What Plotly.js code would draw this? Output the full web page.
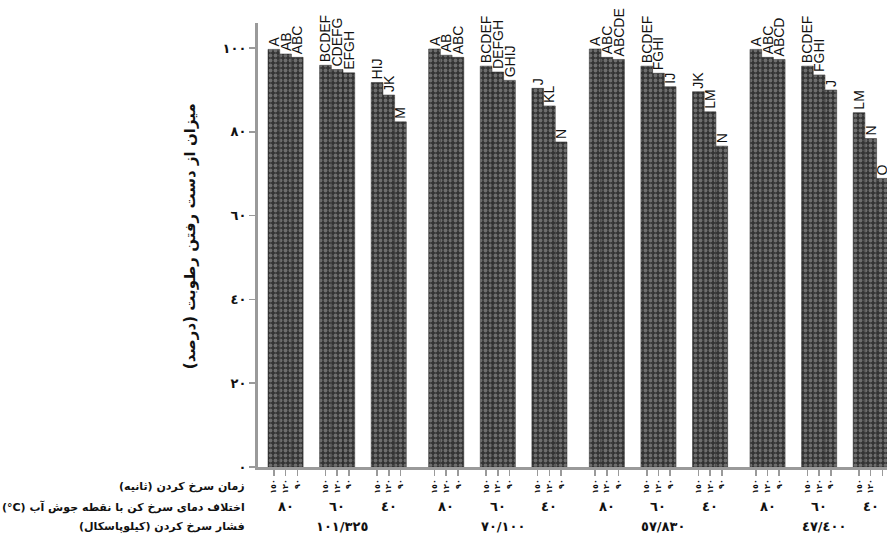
<!DOCTYPE html>
<html>
<head>
<meta charset="utf-8">
<script src="https://cdn.plot.ly/plotly-3.0.1.min.js"></script>
<style>html,body{margin:0;padding:0;background:#fff;}#chart{width:887px;height:555px;}</style>
</head>
<body>
<div id="chart"></div>
<script>
// ---- data ----
const pressureLabels = ["١٠١/٣٢٥", "٧٠/١٠٠", "٥٧/٨٣٠", "٤٧/٤٠٠"];
const tempLabels = ["٨٠", "٦٠", "٤٠"];
const timeLabels = ["١٥٠", "١٢٠", "٩٠"];
const yTickLabels = ["٠", "٢٠", "٤٠", "٦٠", "٨٠", "١٠٠"];
const yTickValues = [0, 20, 40, 60, 80, 100];

// moisture loss (%) per pressure: [temp80: t150,t120,t90, temp60: ..., temp40: ...]
const loss_101 = [99.7, 98.6, 97.8, 95.9, 94.9, 94.1, 91.8, 88.8, 82.4];
const loss_70  = [99.8, 98.3, 97.8, 95.7, 94.3, 92.3, 90.4, 86.2, 77.6];
const loss_57  = [99.8, 97.8, 97.3, 95.7, 94.0, 90.8, 89.6, 84.8, 76.6];
const loss_47  = [99.7, 97.8, 97.3, 95.7, 93.6, 90.0, 84.6, 78.4, 68.9];

const letters_101 = ["A", "AB", "ABC", "BCDEF", "CDEFG", "EFGH", "HIJ", "JK", "M"];
const letters_70  = ["A", "AB", "ABC", "BCDEF", "DEFGH", "GHIJ", "J", "KL", "N"];
const letters_57  = ["A", "ABC", "ABCDE", "BCDEF", "FGHI", "IJ", "JK", "LM", "N"];
const letters_47  = ["A", "ABC", "ABCD", "BCDEF", "FGHI", "J", "LM", "N", "O"];

const rowTitleTime = "زمان سرخ کردن (ثانیه)\u200F";
const rowTitleTemp = "(°C) اختلاف دمای سرخ کن با نقطه جوش آب";
const rowTitlePress = "فشار سرخ کردن (کیلوپاسکال)\u200F";
const yTitle = "میزان از دست رفتن رطوبت (درصد)\u200F";

// ---- build ----
const allLoss = [loss_101, loss_70, loss_57, loss_47];
const allLetters = [letters_101, letters_70, letters_57, letters_47];
const P_STEP = 13.73, T_STEP = 4.41;
const xs = [], ys = [], txt = [], tickv = [], tickt = [];
const annotations = [];
const numFont = {family: 'DejaVu Sans', size: 13, color: '#111', weight: 'bold'};
for (let p = 0; p < 4; p++) {
  for (let t = 0; t < 3; t++) {
    for (let k = 0; k < 3; k++) {
      const x = p * P_STEP + t * T_STEP + k;
      xs.push(x);
      ys.push(allLoss[p][t * 3 + k]);
      txt.push(allLetters[p][t * 3 + k]);
      tickv.push(x);
      tickt.push(timeLabels[k]);
    }
    annotations.push({
      x: p * P_STEP + t * T_STEP + 1, xref: 'x', y: -0.09, yref: 'paper',
      text: tempLabels[t], showarrow: false, xanchor: 'center', yanchor: 'middle',
      font: numFont
    });
  }
  annotations.push({
    x: p * P_STEP + T_STEP + 1.4, xref: 'x', y: -0.135, yref: 'paper',
    text: pressureLabels[p], showarrow: false, xanchor: 'center', yanchor: 'middle',
    font: numFont
  });
}
const rowFont = {family: 'DejaVu Sans', size: 11, color: '#111', weight: 'bold'};
annotations.push({x: -0.018, xref: 'paper', y: -0.045, yref: 'paper', text: rowTitleTime, showarrow: false, xanchor: 'right', yanchor: 'middle', font: rowFont});
annotations.push({x: -0.018, xref: 'paper', y: -0.09, yref: 'paper', text: rowTitleTemp, showarrow: false, xanchor: 'right', yanchor: 'middle', font: rowFont});
annotations.push({x: -0.018, xref: 'paper', y: -0.135, yref: 'paper', text: rowTitlePress, showarrow: false, xanchor: 'right', yanchor: 'middle', font: rowFont});
annotations.push({x: -0.108, xref: 'paper', y: 0.52, yref: 'paper', text: yTitle, showarrow: false, textangle: -90, xanchor: 'center', yanchor: 'middle', font: {family: 'DejaVu Sans', size: 15, color: '#111', weight: 'bold'}});

const trace = {
  type: 'bar', x: xs, y: ys, width: 1,
  text: txt, textposition: 'outside', textangle: -90, constraintext: 'none', cliponaxis: false,
  textfont: {family: 'Liberation Sans Narrow, Liberation Sans', size: 14, color: '#111'},
  marker: {
    color: '#333333',
    line: {color: '#262626', width: 0.5},
    pattern: {shape: '.', fgcolor: '#6e6e6e', bgcolor: '#333333', size: 5, solidity: 0.45}
  },
  hoverinfo: 'x+y'
};

const layout = {
  width: 887, height: 555,
  margin: {l: 258, r: 0, t: 23, b: 88},
  paper_bgcolor: '#fff', plot_bgcolor: '#fff',
  showlegend: false,
  xaxis: {
    range: [-1.355, 52.4], showgrid: false, zeroline: false,
    showline: true, linecolor: '#9a9a9a', linewidth: 3,
    tickmode: 'array', tickvals: tickv, ticktext: tickt, tickangle: -90,
    ticks: 'outside', ticklen: 6, tickcolor: '#9a9a9a', tickwidth: 1.5,
    tickfont: {family: 'DejaVu Sans', size: 8, color: '#111', weight: 'bold'}
  },
  yaxis: {
    range: [0, 106], showgrid: false, zeroline: false,
    showline: true, linecolor: '#9a9a9a', linewidth: 3,
    tickmode: 'array', tickvals: yTickValues, ticktext: yTickLabels,
    ticks: 'outside', ticklen: 6, tickcolor: '#9a9a9a', tickwidth: 1.5,
    tickfont: {family: 'DejaVu Sans', size: 13, color: '#111', weight: 'bold'}
  },
  annotations: annotations
};

Plotly.newPlot('chart', [trace], layout, {displayModeBar: false, staticPlot: true});
</script>
</body>
</html>
